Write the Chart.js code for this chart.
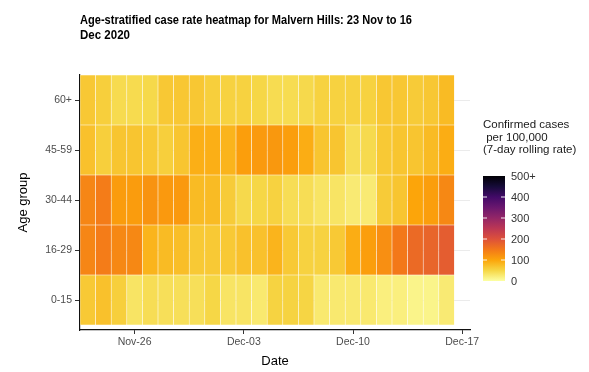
<!DOCTYPE html>
<html>
<head>
<meta charset="utf-8">
<script src="https://cdn.jsdelivr.net/npm/chart.js@4.4.1/dist/chart.umd.min.js"></script>
<style>
  html, body { margin: 0; background: #fff; }
  #wrap { width: 589px; height: 372px; }
</style>
</head>
<body>
<div id="wrap"><canvas id="heat"></canvas></div>
<script>
/* Age-stratified heatmap: one floating bar per day x age group */

const dates = [
  "2020-11-23", "2020-11-24", "2020-11-25", "2020-11-26", "2020-11-27", "2020-11-28",
  "2020-11-29", "2020-11-30", "2020-12-01", "2020-12-02", "2020-12-03", "2020-12-04",
  "2020-12-05", "2020-12-06", "2020-12-07", "2020-12-08", "2020-12-09", "2020-12-10",
  "2020-12-11", "2020-12-12", "2020-12-13", "2020-12-14", "2020-12-15", "2020-12-16",
];
const ageGroups = ["0-15", "16-29", "30-44", "45-59", "60+"];

// cases per 100,000 (7-day rolling rate)
const rate0to15 = [64, 72, 58, 34, 42, 40, 40, 40, 50, 34, 34, 28, 54, 54, 52, 28, 28, 28, 28, 20, 20, 14, 14, 26];
const rate16to29 = [135, 145, 132, 132, 85, 78, 75, 64, 64, 64, 72, 72, 85, 64, 55, 55, 64, 92, 108, 125, 150, 168, 175, 185];
const rate30to44 = [135, 145, 110, 110, 120, 113, 113, 78, 78, 62, 47, 50, 55, 42, 42, 34, 34, 26, 26, 62, 68, 100, 108, 132];
const rate45to59 = [72, 58, 68, 68, 64, 58, 68, 90, 90, 85, 108, 112, 115, 108, 92, 68, 68, 42, 46, 64, 68, 68, 78, 92];
const rate60plus = [65, 58, 45, 45, 48, 65, 66, 66, 58, 55, 55, 50, 44, 44, 47, 55, 55, 55, 55, 66, 66, 62, 66, 78];

const tickDates = ["2020-11-26", "2020-12-03", "2020-12-10", "2020-12-17"];
const legendTicks = [0, 100, 200, 300, 400, 500];
const legendLabels = ["0", "100", "200", "300", "400", "500+"];

const series = [rate0to15, rate16to29, rate30to44, rate45to59, rate60plus];
const RATE_MAX = 500;
const FONT = "'Liberation Sans', Arial, sans-serif";

// inferno, dark -> light
const INFERNO = ["#000004", "#160b39", "#420a68", "#6a176e", "#932667", "#bc3754",
  "#dd513a", "#f37819", "#fca50a", "#f6d746", "#fcffa4"];

function hexRgb(h) {
  const n = parseInt(h.slice(1), 16);
  return [(n >> 16) & 255, (n >> 8) & 255, n & 255];
}

function rateColour(v) {
  const t = 1 - Math.min(v, RATE_MAX) / RATE_MAX;
  const p = t * (INFERNO.length - 1);
  const i = Math.min(INFERNO.length - 2, Math.floor(p));
  const f = p - i;
  const a = hexRgb(INFERNO[i]);
  const b = hexRgb(INFERNO[i + 1]);
  const c = a.map((x, k) => Math.round(x + (b[k] - x) * f));
  return `rgb(${c[0]}, ${c[1]}, ${c[2]})`;
}

function dayIndex(iso) {
  return Math.round((Date.parse(iso) - Date.parse(dates[0])) / 86400000);
}

function shortDate(iso) {
  const m = ["Jan", "Feb", "Mar", "Apr", "May", "Jun", "Jul", "Aug", "Sep", "Oct", "Nov", "Dec"];
  const [, mm, dd] = iso.split("-");
  return `${m[Number(mm) - 1]}-${dd}`;
}

const tickPos = tickDates.map(dayIndex);

/* title + colourbar legend drawn outside the plot area */
const decorations = {
  id: "decorations",
  afterDraw(chart) {
    const ctx = chart.ctx;
    const left = chart.chartArea.left;
    ctx.save();
    ctx.fillStyle = "#000";
    ctx.textBaseline = "middle";
    ctx.textAlign = "left";
    ctx.font = `bold 12.5px ${FONT}`;
    ctx.fillText("Age-stratified case rate heatmap for Malvern Hills: 23 Nov to 16", left, 21, 332);
    ctx.fillText("Dec 2020", left, 35.5, 50);

    // legend title
    ctx.font = `11.5px ${FONT}`;
    ctx.fillStyle = "#1a1a1a";
    ctx.fillText("Confirmed cases", 483, 125);
    ctx.fillText(" per 100,000", 483, 137.5);
    ctx.fillText("(7-day rolling rate)", 483, 150);

    // colour bar
    const bx = 483, bw = 22, y0 = 281, y1 = 176;
    const grad = ctx.createLinearGradient(0, y0, 0, y1);
    INFERNO.slice().reverse().forEach((c, i, arr) => grad.addColorStop(i / (arr.length - 1), c));
    ctx.fillStyle = grad;
    ctx.fillRect(bx, y1, bw, y0 - y1);

    ctx.strokeStyle = "rgba(255,255,255,0.9)";
    ctx.lineWidth = 1;
    ctx.fillStyle = "#333";
    ctx.font = `11px ${FONT}`;
    legendTicks.forEach((v, i) => {
      const y = y0 - (y0 - y1) * v / RATE_MAX;
      if (v > 0 && v < RATE_MAX) {
        ctx.beginPath();
        ctx.moveTo(bx, y); ctx.lineTo(bx + 4, y);
        ctx.moveTo(bx + bw - 4, y); ctx.lineTo(bx + bw, y);
        ctx.stroke();
      }
      ctx.fillText(legendLabels[i], 511, y + 1);
    });
    ctx.restore();
  },
};

new Chart(document.getElementById("heat"), {
  type: "bar",
  data: {
    datasets: ageGroups.map((g, row) => ({
      label: g,
      data: series[row].map((v, d) => ({ x: d, y: [row - 0.5, row + 0.5], rate: v })),
      backgroundColor: (c) => (c.raw ? rateColour(c.raw.rate) : "#fff"),
      borderColor: "rgba(255,255,255,0.3)",
      borderWidth: 0.6,
      borderSkipped: false,
    })),
  },
  options: {
    responsive: true,
    maintainAspectRatio: false,
    animation: false,
    events: [],
    grouped: false,
    barPercentage: 1,
    categoryPercentage: 1,
    layout: { padding: { left: 0, right: 119, top: 75, bottom: 0 } },
    plugins: {
      legend: { display: false },
      tooltip: { enabled: false },
    },
    scales: {
      x: {
        type: "linear",
        offset: false,
        min: -0.5,
        max: dates.length + 0.5,
        afterBuildTicks: (s) => { s.ticks = tickPos.map((v) => ({ value: v })); },
        afterFit: (s) => { s.height = 42; s.paddingLeft = 0; s.paddingRight = 0; },
        ticks: {
          autoSkip: false,
          maxRotation: 0,
          padding: 2,
          color: "#4d4d4d",
          font: { family: FONT, size: 10.5 },
          callback: (v) => shortDate(tickDates[tickPos.indexOf(v)]),
        },
        grid: { offset: false, drawOnChartArea: false, drawTicks: true, tickLength: 4, tickColor: "#333" },
        border: { display: true, color: "#111", width: 1.2 },
        title: {
          display: true,
          text: "Date",
          color: "#000",
          font: { family: FONT, size: 13 },
          padding: { top: 2, bottom: 3 },
        },
      },
      y: {
        type: "linear",
        min: -0.6,
        max: ageGroups.length - 0.5,
        afterBuildTicks: (s) => { s.ticks = ageGroups.map((g, i) => ({ value: i })); },
        afterFit: (s) => { s.width = 80; s.paddingTop = 0; s.paddingBottom = 0; },
        ticks: {
          autoSkip: false,
          padding: 3,
          color: "#4d4d4d",
          font: { family: FONT, size: 10.5 },
          callback: (v) => ageGroups[v],
        },
        grid: { offset: false, color: "#ebebeb", lineWidth: 1, drawTicks: true, tickLength: 5, tickColor: "#333" },
        border: { display: true, color: "#111", width: 1.2 },
        title: {
          display: true,
          text: "Age group",
          color: "#000",
          font: { family: FONT, size: 13 },
          padding: { top: 16, bottom: 0 },
        },
      },
    },
  },
  plugins: [decorations],
});
</script>
</body>
</html>
